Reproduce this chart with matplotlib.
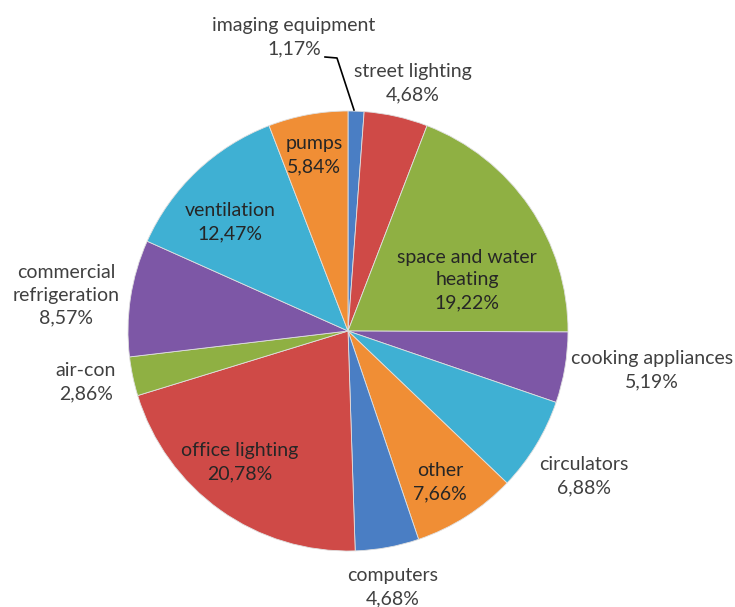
import matplotlib.pyplot as plt

# energy use by category, clockwise from 12 o'clock
categories = ["imaging equipment", "street lighting", "space and water\nheating",
              "cooking appliances", "circulators", "other", "computers",
              "office lighting", "air-con", "commercial\nrefrigeration",
              "ventilation", "pumps"]
shares = [1.17, 4.68, 19.22, 5.19, 6.88, 7.66, 4.68, 20.78, 2.86, 8.57, 12.47, 5.84]
pct_labels = ["1,17%", "4,68%", "19,22%", "5,19%", "6,88%", "7,66%", "4,68%",
              "20,78%", "2,86%", "8,57%", "12,47%", "5,84%"]
inside = [False, False, True, False, False, True, False, True, False, False, True, True]

colors = ["#4a7ec4", "#cf4a47", "#8fb043", "#7d57a6", "#3fb0d3", "#f08e35"] * 2

W, H = 735, 607
fig = plt.figure(figsize=(W / 100, H / 100), dpi=100)
ax = fig.add_axes([0, 0, 1, 1])

cx, cy, r = 348, H - 331, 220
wedges, _ = ax.pie(shares, colors=colors, startangle=90, counterclock=False,
                   center=(cx, cy), radius=r, frame=True,
                   wedgeprops=dict(edgecolor="#e0e0e0", linewidth=0.6))
ax.set_xlim(0, W)
ax.set_ylim(0, H)
ax.set_aspect("equal")
ax.axis("off")

# label centres in pixel coords (from top-left)
label_pos = [(294, 37), (413, 83), (467, 280), (652, 370), (584, 476),
             (440, 482), (393, 587), (240, 462), (86, 382), (66, 295),
             (230, 222), (314, 155)]
for name, pct, (x, y), ins in zip(categories, pct_labels, label_pos, inside):
    ax.text(x, H - y, name + "\n" + pct, family=["Lato", "DejaVu Sans"],
            fontsize=14, color="#262626" if ins else "#404040",
            ha="center", va="center", linespacing=1.42)

# leader line for the tiny slice
ax.plot([325, 337, 354], [H - 57, H - 58, H - 110], color="black", lw=1.2)

fig.savefig("out.png", dpi=100)
